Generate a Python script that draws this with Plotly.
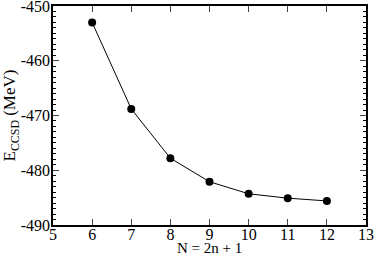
import plotly.graph_objects as go

# data
n_shell = [6, 7, 8, 9, 10, 11, 12]
e_ccsd = [-453.0, -468.8, -477.8, -482.1, -484.3, -485.1, -485.6]
y_ticks = [-490, -480, -470, -460, -450]
y_labels = ['-490', '-480', '-470', '-460', '-450']

fig = go.Figure()
fig.add_trace(go.Scatter(x=n_shell, y=e_ccsd, mode='lines+markers',
                         line=dict(color='black', width=1),
                         marker=dict(color='black', size=8),
                         showlegend=False))

font = dict(family='Liberation Serif', size=16, color='black')

fig.update_xaxes(range=[5, 13], dtick=1, ticks='inside', ticklen=6, tickwidth=1,
                 mirror='allticks', showline=True, linecolor='black', linewidth=1.5,
                 showgrid=False, zeroline=False, tickfont=font, automargin=False,
                 ticklabeloverflow='allow', ticklabelstandoff=-6)
fig.update_yaxes(range=[-490, -450], tickvals=y_ticks, ticktext=y_labels,
                 ticks='inside', ticklen=6, tickwidth=1,
                 mirror='allticks', showline=True, linecolor='black', linewidth=1.5,
                 showgrid=False, zeroline=False, tickfont=font, automargin=False,
                 ticklabeloverflow='allow', ticklabelstandoff=-2,
                 minor=dict(dtick=1, ticks='inside', ticklen=3, tickcolor='black', showgrid=False),
                 title=dict(text='E<sub>CCSD</sub> (MeV)', font=dict(family='Liberation Serif', size=17, color='black'), standoff=2))

fig.add_annotation(text='N = 2n + 1', xref='paper', yref='paper', x=0.5, y=-0.107,
                   xanchor='center', yanchor='middle', showarrow=False,
                   font=dict(family='Liberation Serif', size=15, color='black'))

fig.update_layout(width=374, height=255, margin=dict(l=53, r=8, t=6, b=30),
                  paper_bgcolor='white', plot_bgcolor='white', font=font)

fig.write_html("out.html", config={'displayModeBar': False},
               post_script="document.body.style.margin='0';")
